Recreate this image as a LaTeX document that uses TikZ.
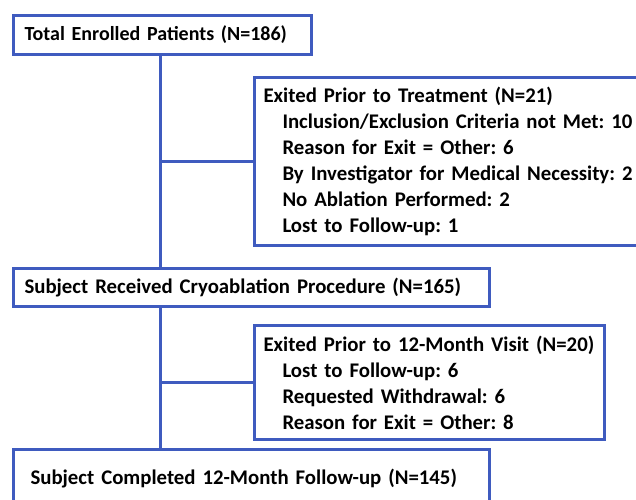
\documentclass[tikz,border=0pt]{standalone}
\usepackage{fontspec}
\setmainfont{Carlito}[BoldFont={Carlito Bold}]
\frenchspacing
\definecolor{boxblue}{RGB}{63,91,191}
\tikzset{
  box/.style={draw=boxblue, line width=3pt, rectangle, anchor=north west,
    align=left, font=\fontsize{20.8}{26}\selectfont\bfseries, inner ysep=0pt},
  link/.style={draw=boxblue, line width=3pt}
}
\newcommand{\ind}{\hspace*{19pt}}
\begin{document}
\begin{tikzpicture}[x=1pt,y=1pt]
\useasboundingbox (0,0) rectangle (636,-499);
\clip (0,0) rectangle (636,-499);
\coordinate (spine) at (160,0);
\node[box, minimum width=298pt, minimum height=39pt, inner xsep=11pt, text width=276pt, font=\fontsize{20}{26}\selectfont\bfseries] (total) at (12,-14) {Total Enrolled Patients (N=186)};
\node[box, minimum width=400pt, minimum height=168pt, inner xsep=9pt, text width=382pt] (ex1) at (253,-76) {Exited Prior to Treatment (N=21)\\
\ind Inclusion/Exclusion Criteria not Met: 10\\
\ind Reason for Exit = Other: 6\\
\ind By Investigator for Medical Necessity: 2\\
\ind No Ablation Performed: 2\\
\ind Lost to Follow-up: 1};
\node[box, minimum width=476pt, minimum height=38pt, inner xsep=11pt, text width=454pt] (proc) at (12,-267) {Subject Received Cryoablation Procedure (N=165)};
\node[box, minimum width=350pt, minimum height=114pt, inner xsep=9pt, text width=332pt] (ex2) at (253,-324) {Exited Prior to 12-Month Visit (N=20)\\
\ind Lost to Follow-up: 6\\
\ind Requested Withdrawal: 6\\
\ind Reason for Exit = Other: 8};
\node[box, minimum width=476pt, minimum height=58pt, inner xsep=17pt, text width=442pt] (done) at (12,-448) {Subject Completed 12-Month Follow-up (N=145)};
\draw[link] (total.south -| spine) -- (proc.north -| spine);
\draw[link] (proc.south -| spine) -- (done.north -| spine);
\draw[link] (ex1.west -| spine) -- (ex1.west);
\draw[link] (ex2.west -| spine) -- (ex2.west);
\end{tikzpicture}
\end{document}
